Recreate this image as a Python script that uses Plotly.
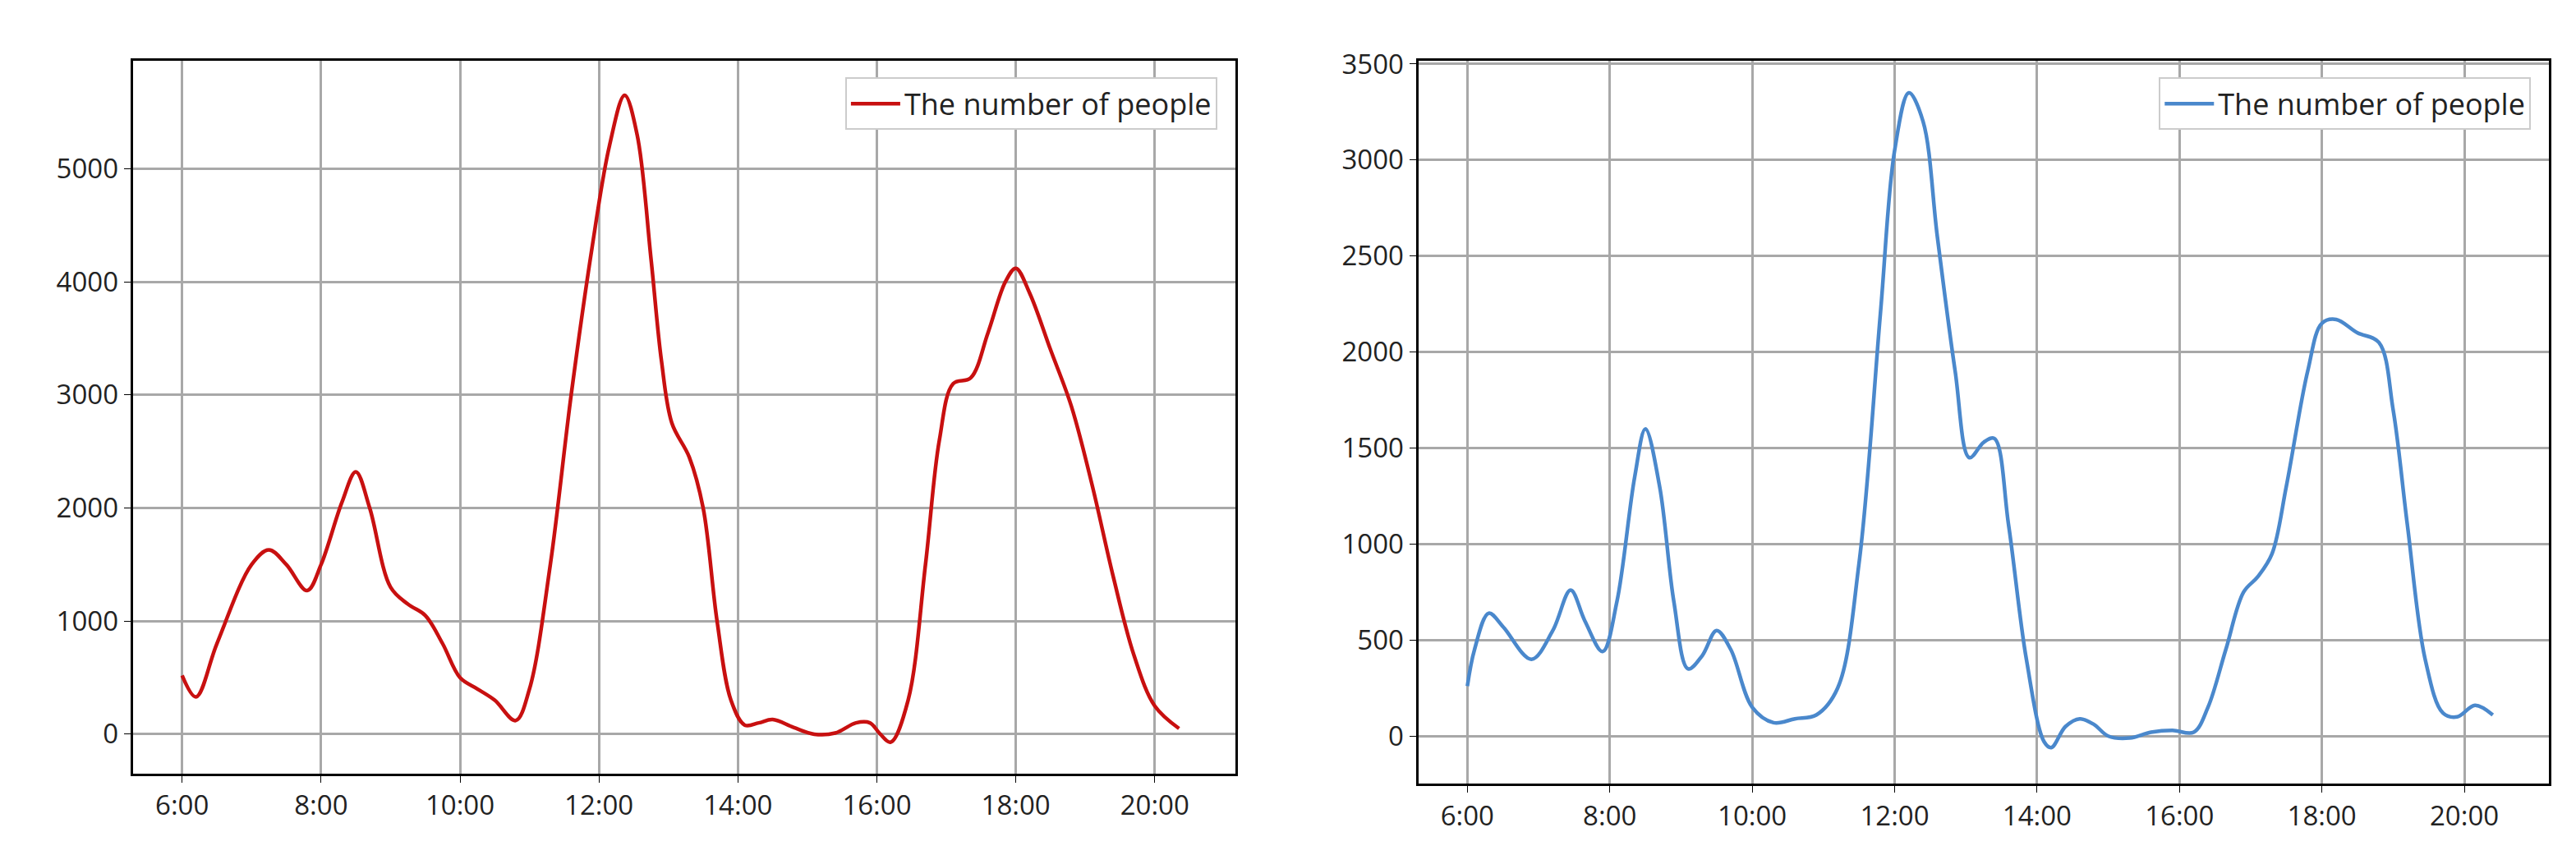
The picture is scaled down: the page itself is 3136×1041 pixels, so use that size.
import plotly.graph_objects as go

tick_vals = [6, 8, 10, 12, 14, 16, 18, 20]
tick_text = ["6:00", "8:00", "10:00", "12:00", "14:00", "16:00", "18:00", "20:00"]

left_x = [6.0, 6.2, 6.5, 7.0, 7.25, 7.5, 7.8, 8.0, 8.3, 8.5, 8.7, 9.0, 9.25, 9.5, 9.75, 10.0, 10.25, 10.5, 10.8,
          11.0, 11.3, 11.6, 11.9, 12.15, 12.37, 12.55, 12.75, 12.9, 13.05, 13.3, 13.5, 13.7, 13.9, 14.1, 14.3, 14.5,
          14.8, 15.1, 15.4, 15.7, 15.9, 16.05, 16.2, 16.45, 16.7, 16.9, 17.1, 17.35, 17.6, 17.85, 18.0, 18.2, 18.5,
          18.8, 19.1, 19.4, 19.7, 20.0, 20.35]
left_y = [520, 330, 800, 1500, 1630, 1500, 1270, 1500, 2050, 2320, 2000, 1300, 1150, 1050, 800, 500, 400, 300, 120,
          400, 1500, 3000, 4300, 5200, 5650, 5300, 4200, 3300, 2750, 2450, 2000, 1000, 300, 80, 100, 130,
          60, 0, 10, 100, 100, 0, -70, 300, 1500, 2600, 3100, 3150, 3550, 4000, 4120, 3900, 3400,
          2900, 2200, 1400, 700, 250, 50]

right_x = [6.0, 6.1, 6.3, 6.5, 6.9, 7.2, 7.45, 7.65, 7.9, 8.1, 8.35, 8.5, 8.7, 8.9, 9.1, 9.3, 9.5, 9.7, 10.0, 10.3,
           10.6, 10.9, 11.2, 11.5, 11.8, 12.0, 12.2, 12.4, 12.6, 12.85, 13.05, 13.25, 13.4, 13.6, 13.85, 14.1, 14.2,
           14.4, 14.6, 14.8, 15.0, 15.3, 15.6, 15.9, 16.2, 16.4, 16.65, 16.9, 17.1, 17.3, 17.5, 17.8, 18.0, 18.2,
           18.5, 18.8, 19.0, 19.2, 19.45, 19.7, 19.9, 20.15, 20.4]
right_y = [260, 450, 640, 570, 400, 550, 760, 600, 440, 700, 1350, 1600, 1300, 700, 350, 420, 550, 450, 150, 70,
           90, 110, 250, 900, 2200, 3050, 3350, 3200, 2600, 1900, 1450, 1530, 1550, 1100, 400, -30, -60,
           50, 90, 60, 0, -10, 20, 30, 20, 150, 450, 750, 830, 950, 1300, 1900, 2150, 2170,
           2100, 2050, 1700, 1100, 400, 120, 100, 160, 110]

fig = go.Figure()
fig.add_trace(go.Scatter(x=left_x, y=left_y, mode="lines", name="The number of people",
                         legendgroup="left", showlegend=True,
                         line=dict(color="#c81010", width=4.5, shape="spline", smoothing=1.0),
                         xaxis="x", yaxis="y", legend="legend"))
fig.add_trace(go.Scatter(x=right_x, y=right_y, mode="lines", name="The number of people",
                         legendgroup="right", showlegend=True,
                         line=dict(color="#4a88cc", width=4.5, shape="spline", smoothing=1.0),
                         xaxis="x2", yaxis="y2", legend="legend2"))

ax = dict(showgrid=True, gridcolor="#a8a8a8", gridwidth=3, showline=True, linecolor="black", linewidth=3,
          mirror=True, zeroline=False, ticks="outside", ticklen=8, tickcolor="black",
          tickfont=dict(family="Open Sans", size=33, color="#222"))
legend_style = dict(bordercolor="#cccccc", borderwidth=2, bgcolor="white",
                    font=dict(family="Open Sans", size=36, color="#222"), xanchor="right", yanchor="top",
                    itemwidth=60)

fig.update_layout(
    width=3136, height=1041, margin=dict(l=0, r=0, t=0, b=0),
    paper_bgcolor="white", plot_bgcolor="white",
    xaxis=dict(ax, domain=[0.049, 0.477], range=[5.29, 21.16], tickvals=tick_vals, ticktext=tick_text, anchor="y"),
    yaxis=dict(ax, domain=[0.105, 0.954], range=[-347, 5955], tickvals=[0, 1000, 2000, 3000, 4000, 5000], anchor="x"),
    xaxis2=dict(ax, domain=[0.548, 0.987], range=[5.31, 21.19], tickvals=tick_vals, ticktext=tick_text, anchor="y2"),
    yaxis2=dict(ax, domain=[0.093, 0.954], range=[-247, 3517], dtick=500, anchor="x2"),
    legend=dict(legend_style, x=0.470, y=0.934),
    legend2=dict(legend_style, x=0.980, y=0.934),
)
fig.write_html("out.html")
